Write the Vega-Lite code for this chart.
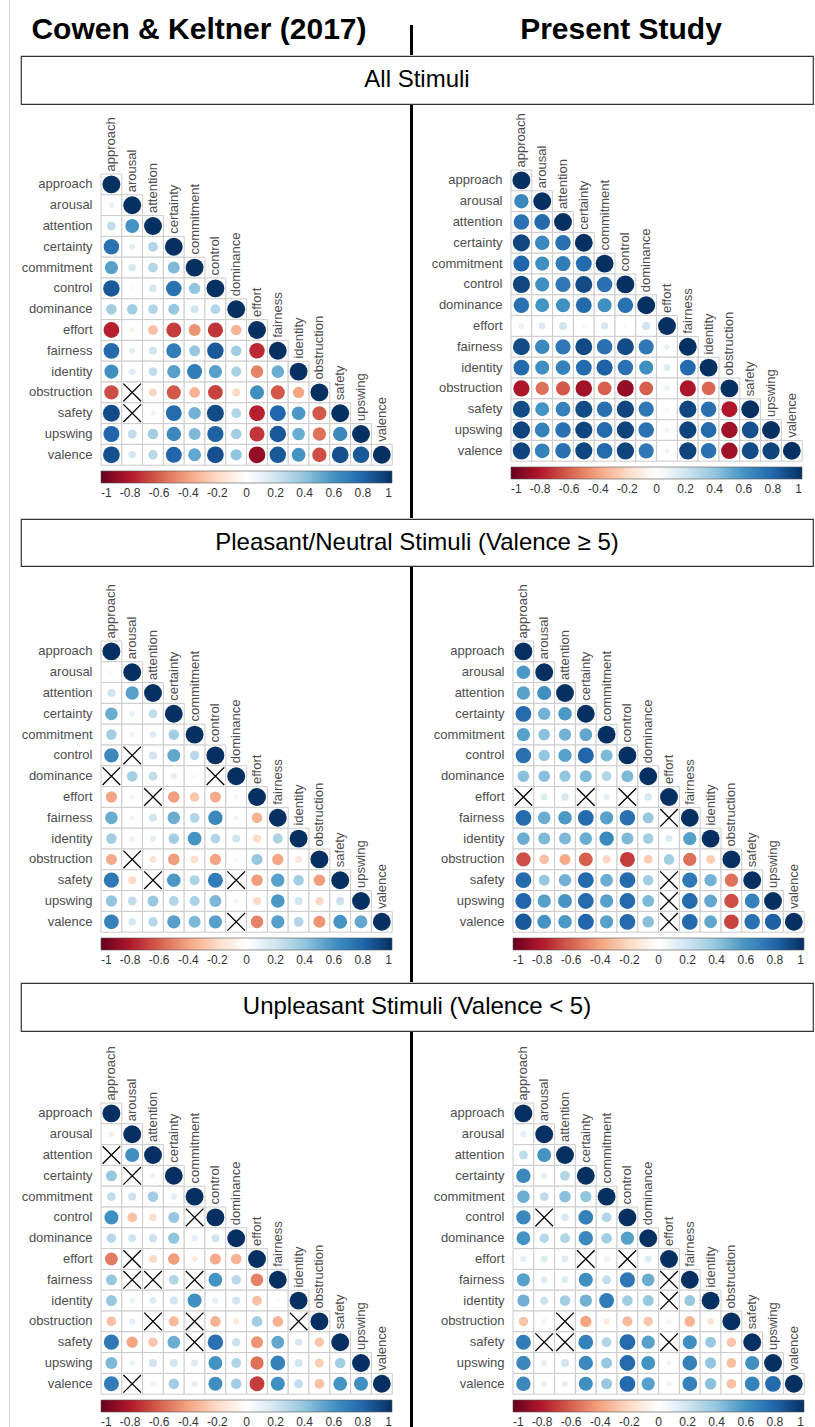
{
  "$schema": "https://vega.github.io/schema/vega-lite/v6.json",
  "padding": {"left": 8, "top": 0, "right": 0, "bottom": 0},
  "config": {
    "font": "Liberation Sans",
    "view": {"stroke": null},
    "axis": {"grid": false}
  },
  "datasets": {
    "corr": [
      {"panel": "ck_all", "row": "approach", "col": ["approach"], "r": [1]},
      {"panel": "ck_all", "row": "arousal", "col": ["approach","arousal"], "r": [0.1, 1]},
      {"panel": "ck_all", "row": "attention", "col": ["approach","arousal","attention"], "r": [0.25, 0.6, 1]},
      {"panel": "ck_all", "row": "certainty", "col": ["approach","arousal","attention","certainty"], "r": [0.75, 0.12, 0.3, 1]},
      {"panel": "ck_all", "row": "commitment", "col": ["approach","arousal","attention","certainty","commitment"], "r": [0.55, 0.18, 0.3, 0.45, 1]},
      {"panel": "ck_all", "row": "control", "col": ["approach","arousal","attention","certainty","commitment","control"], "r": [0.85, 0.05, 0.18, 0.75, 0.4, 1]},
      {"panel": "ck_all", "row": "dominance", "col": ["approach","arousal","attention","certainty","commitment","control","dominance"], "r": [0.35, 0.35, 0.3, 0.38, 0.2, 0.3, 1]},
      {"panel": "ck_all", "row": "effort", "col": ["approach","arousal","attention","certainty","commitment","control","dominance","effort"], "r": [-0.78, -0.08, -0.3, -0.7, -0.45, -0.72, -0.35, 1]},
      {"panel": "ck_all", "row": "fairness", "col": ["approach","arousal","attention","certainty","commitment","control","dominance","effort","fairness"], "r": [0.78, 0.12, 0.2, 0.7, 0.38, 0.85, 0.35, -0.75, 1]},
      {"panel": "ck_all", "row": "identity", "col": ["approach","arousal","attention","certainty","commitment","control","dominance","effort","fairness","identity"], "r": [0.62, 0.15, 0.25, 0.55, 0.7, 0.55, 0.32, -0.5, 0.5, 1]},
      {"panel": "ck_all", "row": "obstruction", "col": ["approach","arousal","attention","certainty","commitment","control","dominance","effort","fairness","identity","obstruction"], "r": [-0.65, null, -0.22, -0.62, -0.35, -0.68, -0.2, 0.62, -0.62, -0.4, 1]},
      {"panel": "ck_all", "row": "safety", "col": ["approach","arousal","attention","certainty","commitment","control","dominance","effort","fairness","identity","obstruction","safety"], "r": [0.9, null, 0.08, 0.78, 0.48, 0.9, 0.3, -0.78, 0.8, 0.58, -0.62, 1]},
      {"panel": "ck_all", "row": "upswing", "col": ["approach","arousal","attention","certainty","commitment","control","dominance","effort","fairness","identity","obstruction","safety","upswing"], "r": [0.8, 0.25, 0.35, 0.65, 0.45, 0.82, 0.35, -0.72, 0.85, 0.5, -0.55, 0.65, 1]},
      {"panel": "ck_all", "row": "valence", "col": ["approach","arousal","attention","certainty","commitment","control","dominance","effort","fairness","identity","obstruction","safety","upswing","valence"], "r": [0.88, 0.18, 0.28, 0.8, 0.52, 0.88, 0.4, -0.88, 0.85, 0.6, -0.65, 0.88, 0.85, 1]},

      {"panel": "ps_all", "row": "approach", "col": ["approach"], "r": [1]},
      {"panel": "ps_all", "row": "arousal", "col": ["approach","arousal"], "r": [0.65, 1]},
      {"panel": "ps_all", "row": "attention", "col": ["approach","arousal","attention"], "r": [0.75, 0.78, 1]},
      {"panel": "ps_all", "row": "certainty", "col": ["approach","arousal","attention","certainty"], "r": [0.92, 0.65, 0.75, 1]},
      {"panel": "ps_all", "row": "commitment", "col": ["approach","arousal","attention","certainty","commitment"], "r": [0.8, 0.62, 0.7, 0.78, 1]},
      {"panel": "ps_all", "row": "control", "col": ["approach","arousal","attention","certainty","commitment","control"], "r": [0.92, 0.62, 0.72, 0.9, 0.75, 1]},
      {"panel": "ps_all", "row": "dominance", "col": ["approach","arousal","attention","certainty","commitment","control","dominance"], "r": [0.75, 0.6, 0.62, 0.78, 0.62, 0.75, 1]},
      {"panel": "ps_all", "row": "effort", "col": ["approach","arousal","attention","certainty","commitment","control","dominance","effort"], "r": [0.1, 0.15, 0.2, 0.05, 0.18, 0.05, 0.2, 1]},
      {"panel": "ps_all", "row": "fairness", "col": ["approach","arousal","attention","certainty","commitment","control","dominance","effort","fairness"], "r": [0.9, 0.65, 0.72, 0.9, 0.75, 0.9, 0.72, 0.1, 1]},
      {"panel": "ps_all", "row": "identity", "col": ["approach","arousal","attention","certainty","commitment","control","dominance","effort","fairness","identity"], "r": [0.78, 0.62, 0.68, 0.78, 0.82, 0.75, 0.62, 0.15, 0.78, 1]},
      {"panel": "ps_all", "row": "obstruction", "col": ["approach","arousal","attention","certainty","commitment","control","dominance","effort","fairness","identity","obstruction"], "r": [-0.82, -0.55, -0.62, -0.85, -0.6, -0.88, -0.6, 0.1, -0.82, -0.58, 1]},
      {"panel": "ps_all", "row": "safety", "col": ["approach","arousal","attention","certainty","commitment","control","dominance","effort","fairness","identity","obstruction","safety"], "r": [0.9, 0.6, 0.68, 0.9, 0.75, 0.92, 0.72, 0.05, 0.92, 0.75, -0.8, 1]},
      {"panel": "ps_all", "row": "upswing", "col": ["approach","arousal","attention","certainty","commitment","control","dominance","effort","fairness","identity","obstruction","safety","upswing"], "r": [0.93, 0.68, 0.75, 0.92, 0.78, 0.93, 0.75, 0.08, 0.93, 0.78, -0.85, 0.88, 1]},
      {"panel": "ps_all", "row": "valence", "col": ["approach","arousal","attention","certainty","commitment","control","dominance","effort","fairness","identity","obstruction","safety","upswing","valence"], "r": [0.93, 0.68, 0.75, 0.92, 0.78, 0.93, 0.72, 0.08, 0.93, 0.75, -0.85, 0.9, 0.93, 1]},

      {"panel": "ck_pl", "row": "approach", "col": ["approach"], "r": [1]},
      {"panel": "ck_pl", "row": "arousal", "col": ["approach","arousal"], "r": [0.05, 1]},
      {"panel": "ck_pl", "row": "attention", "col": ["approach","arousal","attention"], "r": [0.2, 0.55, 1]},
      {"panel": "ck_pl", "row": "certainty", "col": ["approach","arousal","attention","certainty"], "r": [0.5, 0.1, 0.25, 1]},
      {"panel": "ck_pl", "row": "commitment", "col": ["approach","arousal","attention","certainty","commitment"], "r": [0.35, 0.08, 0.15, 0.35, 1]},
      {"panel": "ck_pl", "row": "control", "col": ["approach","arousal","attention","certainty","commitment","control"], "r": [0.65, null, 0.2, 0.52, 0.28, 1]},
      {"panel": "ck_pl", "row": "dominance", "col": ["approach","arousal","attention","certainty","commitment","control","dominance"], "r": [null, 0.35, 0.25, 0.12, 0.05, null, 1]},
      {"panel": "ck_pl", "row": "effort", "col": ["approach","arousal","attention","certainty","commitment","control","dominance","effort"], "r": [-0.4, 0.08, null, -0.42, -0.28, -0.38, 0.05, 1]},
      {"panel": "ck_pl", "row": "fairness", "col": ["approach","arousal","attention","certainty","commitment","control","dominance","effort","fairness"], "r": [0.5, 0.08, 0.2, 0.5, 0.3, 0.65, 0.08, -0.35, 1]},
      {"panel": "ck_pl", "row": "identity", "col": ["approach","arousal","attention","certainty","commitment","control","dominance","effort","fairness","identity"], "r": [0.35, 0.1, 0.12, 0.35, 0.6, 0.3, 0.2, -0.2, 0.32, 1]},
      {"panel": "ck_pl", "row": "obstruction", "col": ["approach","arousal","attention","certainty","commitment","control","dominance","effort","fairness","identity","obstruction"], "r": [-0.38, null, -0.15, -0.42, -0.18, -0.4, 0.05, 0.38, -0.4, -0.15, 1]},
      {"panel": "ck_pl", "row": "safety", "col": ["approach","arousal","attention","certainty","commitment","control","dominance","effort","fairness","identity","obstruction","safety"], "r": [0.72, -0.2, null, 0.58, 0.32, 0.7, null, -0.42, 0.55, 0.35, -0.42, 1]},
      {"panel": "ck_pl", "row": "upswing", "col": ["approach","arousal","attention","certainty","commitment","control","dominance","effort","fairness","identity","obstruction","safety","upswing"], "r": [0.4, 0.25, 0.38, 0.3, 0.32, 0.45, 0.08, -0.2, 0.58, 0.2, -0.22, 0.22, 1]},
      {"panel": "ck_pl", "row": "valence", "col": ["approach","arousal","attention","certainty","commitment","control","dominance","effort","fairness","identity","obstruction","safety","upswing","valence"], "r": [0.68, 0.18, 0.28, 0.55, 0.45, 0.55, null, -0.5, 0.55, 0.3, -0.45, 0.6, 0.52, 1]},

      {"panel": "ps_pl", "row": "approach", "col": ["approach"], "r": [1]},
      {"panel": "ps_pl", "row": "arousal", "col": ["approach","arousal"], "r": [0.58, 1]},
      {"panel": "ps_pl", "row": "attention", "col": ["approach","arousal","attention"], "r": [0.55, 0.62, 1]},
      {"panel": "ps_pl", "row": "certainty", "col": ["approach","arousal","attention","certainty"], "r": [0.78, 0.48, 0.58, 1]},
      {"panel": "ps_pl", "row": "commitment", "col": ["approach","arousal","attention","certainty","commitment"], "r": [0.55, 0.42, 0.48, 0.52, 1]},
      {"panel": "ps_pl", "row": "control", "col": ["approach","arousal","attention","certainty","commitment","control"], "r": [0.75, 0.4, 0.55, 0.8, 0.45, 1]},
      {"panel": "ps_pl", "row": "dominance", "col": ["approach","arousal","attention","certainty","commitment","control","dominance"], "r": [0.42, 0.42, 0.4, 0.45, 0.3, 0.45, 1]},
      {"panel": "ps_pl", "row": "effort", "col": ["approach","arousal","attention","certainty","commitment","control","dominance","effort"], "r": [null, 0.15, 0.18, null, 0.12, null, 0.18, 1]},
      {"panel": "ps_pl", "row": "fairness", "col": ["approach","arousal","attention","certainty","commitment","control","dominance","effort","fairness"], "r": [0.78, 0.5, 0.58, 0.78, 0.55, 0.75, 0.38, null, 1]},
      {"panel": "ps_pl", "row": "identity", "col": ["approach","arousal","attention","certainty","commitment","control","dominance","effort","fairness","identity"], "r": [0.5, 0.45, 0.45, 0.5, 0.65, 0.45, 0.35, 0.15, 0.55, 1]},
      {"panel": "ps_pl", "row": "obstruction", "col": ["approach","arousal","attention","certainty","commitment","control","dominance","effort","fairness","identity","obstruction"], "r": [-0.65, -0.3, -0.38, -0.6, -0.22, -0.7, -0.25, 0.35, -0.55, -0.25, 1]},
      {"panel": "ps_pl", "row": "safety", "col": ["approach","arousal","attention","certainty","commitment","control","dominance","effort","fairness","identity","obstruction","safety"], "r": [0.78, 0.38, 0.48, 0.78, 0.5, 0.78, 0.35, null, 0.72, 0.48, -0.55, 1]},
      {"panel": "ps_pl", "row": "upswing", "col": ["approach","arousal","attention","certainty","commitment","control","dominance","effort","fairness","identity","obstruction","safety","upswing"], "r": [0.8, 0.55, 0.6, 0.78, 0.55, 0.78, 0.45, null, 0.78, 0.52, -0.65, 0.68, 1]},
      {"panel": "ps_pl", "row": "valence", "col": ["approach","arousal","attention","certainty","commitment","control","dominance","effort","fairness","identity","obstruction","safety","upswing","valence"], "r": [0.85, 0.6, 0.58, 0.8, 0.55, 0.78, 0.42, null, 0.78, 0.52, -0.68, 0.75, 0.82, 1]},

      {"panel": "ck_un", "row": "approach", "col": ["approach"], "r": [1]},
      {"panel": "ck_un", "row": "arousal", "col": ["approach","arousal"], "r": [-0.1, 1]},
      {"panel": "ck_un", "row": "attention", "col": ["approach","arousal","attention"], "r": [null, 0.62, 1]},
      {"panel": "ck_un", "row": "certainty", "col": ["approach","arousal","attention","certainty"], "r": [0.38, null, 0.1, 1]},
      {"panel": "ck_un", "row": "commitment", "col": ["approach","arousal","attention","certainty","commitment"], "r": [0.25, 0.22, 0.35, 0.12, 1]},
      {"panel": "ck_un", "row": "control", "col": ["approach","arousal","attention","certainty","commitment","control"], "r": [0.62, -0.3, -0.18, 0.38, null, 1]},
      {"panel": "ck_un", "row": "dominance", "col": ["approach","arousal","attention","certainty","commitment","control","dominance"], "r": [0.28, 0.2, 0.22, 0.4, 0.12, 0.2, 1]},
      {"panel": "ck_un", "row": "effort", "col": ["approach","arousal","attention","certainty","commitment","control","dominance","effort"], "r": [-0.52, null, -0.2, -0.42, -0.12, -0.38, -0.35, 1]},
      {"panel": "ck_un", "row": "fairness", "col": ["approach","arousal","attention","certainty","commitment","control","dominance","effort","fairness"], "r": [0.38, null, null, 0.3, null, 0.6, 0.28, -0.5, 1]},
      {"panel": "ck_un", "row": "identity", "col": ["approach","arousal","attention","certainty","commitment","control","dominance","effort","fairness","identity"], "r": [0.38, 0.1, 0.15, 0.2, 0.62, 0.12, 0.2, -0.3, 0.05, 1]},
      {"panel": "ck_un", "row": "obstruction", "col": ["approach","arousal","attention","certainty","commitment","control","dominance","effort","fairness","identity","obstruction"], "r": [-0.3, 0.12, null, -0.32, null, -0.35, -0.12, 0.35, -0.35, null, 1]},
      {"panel": "ck_un", "row": "safety", "col": ["approach","arousal","attention","certainty","commitment","control","dominance","effort","fairness","identity","obstruction","safety"], "r": [0.72, -0.4, -0.28, 0.5, null, 0.75, 0.22, -0.45, 0.52, 0.18, -0.28, 1]},
      {"panel": "ck_un", "row": "upswing", "col": ["approach","arousal","attention","certainty","commitment","control","dominance","effort","fairness","identity","obstruction","safety","upswing"], "r": [0.45, 0.1, 0.2, 0.2, 0.15, 0.6, 0.3, -0.55, 0.68, 0.2, -0.25, 0.35, 1]},
      {"panel": "ck_un", "row": "valence", "col": ["approach","arousal","attention","certainty","commitment","control","dominance","effort","fairness","identity","obstruction","safety","upswing","valence"], "r": [0.7, null, 0.08, 0.35, 0.12, 0.62, 0.35, -0.7, 0.62, 0.25, -0.3, 0.6, 0.62, 1]},

      {"panel": "ps_un", "row": "approach", "col": ["approach"], "r": [1]},
      {"panel": "ps_un", "row": "arousal", "col": ["approach","arousal"], "r": [0.12, 1]},
      {"panel": "ps_un", "row": "attention", "col": ["approach","arousal","attention"], "r": [0.25, 0.6, 1]},
      {"panel": "ps_un", "row": "certainty", "col": ["approach","arousal","attention","certainty"], "r": [0.65, 0.12, 0.3, 1]},
      {"panel": "ps_un", "row": "commitment", "col": ["approach","arousal","attention","certainty","commitment"], "r": [0.5, 0.25, 0.42, 0.4, 1]},
      {"panel": "ps_un", "row": "control", "col": ["approach","arousal","attention","certainty","commitment","control"], "r": [0.65, null, 0.18, 0.68, 0.3, 1]},
      {"panel": "ps_un", "row": "dominance", "col": ["approach","arousal","attention","certainty","commitment","control","dominance"], "r": [0.6, 0.28, 0.3, 0.65, 0.35, 0.55, 1]},
      {"panel": "ps_un", "row": "effort", "col": ["approach","arousal","attention","certainty","commitment","control","dominance","effort"], "r": [0.12, 0.15, 0.15, null, 0.1, null, 0.15, 1]},
      {"panel": "ps_un", "row": "fairness", "col": ["approach","arousal","attention","certainty","commitment","control","dominance","effort","fairness"], "r": [0.55, 0.15, 0.15, 0.62, 0.25, 0.72, 0.5, null, 1]},
      {"panel": "ps_un", "row": "identity", "col": ["approach","arousal","attention","certainty","commitment","control","dominance","effort","fairness","identity"], "r": [0.48, 0.22, 0.35, 0.48, 0.7, 0.35, 0.38, null, 0.38, 1]},
      {"panel": "ps_un", "row": "obstruction", "col": ["approach","arousal","attention","certainty","commitment","control","dominance","effort","fairness","identity","obstruction"], "r": [-0.28, 0.08, null, -0.4, -0.12, -0.32, -0.28, 0.08, -0.35, -0.15, 1]},
      {"panel": "ps_un", "row": "safety", "col": ["approach","arousal","attention","certainty","commitment","control","dominance","effort","fairness","identity","obstruction","safety"], "r": [0.7, null, null, 0.68, 0.3, 0.78, 0.55, null, 0.62, 0.38, -0.28, 1]},
      {"panel": "ps_un", "row": "upswing", "col": ["approach","arousal","attention","certainty","commitment","control","dominance","effort","fairness","identity","obstruction","safety","upswing"], "r": [0.65, 0.12, 0.2, 0.65, 0.38, 0.78, 0.6, 0.08, 0.68, 0.4, -0.3, 0.62, 1]},
      {"panel": "ps_un", "row": "valence", "col": ["approach","arousal","attention","certainty","commitment","control","dominance","effort","fairness","identity","obstruction","safety","upswing","valence"], "r": [0.65, 0.1, 0.12, 0.62, 0.38, 0.78, 0.55, 0.08, 0.68, 0.42, -0.3, 0.68, 0.78, 1]}
    ]
  },
  "spacing": 0,
  "resolve": {
    "scale": {"x": "independent", "y": "independent", "color": "independent", "size": "independent"},
    "legend": {"color": "independent", "size": "independent"}
  },
  "vconcat": [
    {
      "spacing": 0,
      "hconcat": [
        {
          "width": 392, "height": 55,
          "data": {"values": [{"study": "Cowen & Keltner (2017)"}]},
          "layer": [
            {"mark": {"type": "text", "fontSize": 30, "fontWeight": "bold", "color": "black", "dx": -18, "dy": 2.5}, "encoding": {"text": {"field": "study"}}},
            {"mark": {"type": "rect", "color": "black", "xOffset": -3}, "encoding": {"x": {"value": "width"}, "x2": {"value": "width"}, "y": {"value": 25}, "y2": {"value": "height"}}},
            {"mark": {"type": "rect", "color": "#d6d6d6", "xOffset": -12, "x2Offset": -11}, "encoding": {"x": {"value": 0}, "x2": {"value": 0}, "y": {"value": 0}, "y2": {"value": "height"}}}
          ]
        },
        {
          "width": 403, "height": 55,
          "data": {"values": [{"study": "Present Study"}]},
          "mark": {"type": "text", "fontSize": 30, "fontWeight": "bold", "color": "black", "dx": 6.5, "dy": 2.5},
          "encoding": {"text": {"field": "study"}}
        }
      ]
    },
    {
      "width": 792, "height": 48,
      "view": {"stroke": "#333333", "strokeWidth": 1.2, "fill": "white"},
      "data": {"values": [{"subset": "All Stimuli"}]},
      "layer": [
        {"mark": {"type": "text", "fontSize": 24, "color": "black"}, "encoding": {"text": {"field": "subset"}}},
        {"mark": {"type": "rect", "color": "#d6d6d6", "xOffset": -12, "x2Offset": -11}, "encoding": {"x": {"value": 0}, "x2": {"value": 0}, "y": {"value": 0}, "y2": {"value": "height"}}}
      ]
    },
    {
      "spacing": 0,
      "resolve": {
        "scale": {"x": "independent", "y": "independent", "color": "independent", "size": "independent"},
        "legend": {"color": "independent", "size": "independent"}
      },
      "hconcat": [
        {
          "width": 392, "height": 413,
          "data": {"name": "corr"},
          "transform": [{"filter": {"field": "panel", "equal": "ck_all"}}, {"flatten": ["col", "r"]}],
          "encoding": {
            "x": {"field": "col", "type": "nominal", "axis": null, "scale": {"domain": ["approach","arousal","attention","certainty","commitment","control","dominance","effort","fairness","identity","obstruction","safety","upswing","valence"], "paddingInner": 0, "paddingOuter": 0, "range": [80, 371.2]}},
            "y": {"field": "row", "type": "nominal", "scale": {"domain": ["approach","arousal","attention","certainty","commitment","control","dominance","effort","fairness","identity","obstruction","safety","upswing","valence"], "paddingInner": 0, "paddingOuter": 0, "range": [69, 360.2]}, "axis": {"title": null, "domain": false, "ticks": false, "offset": -80, "labelPadding": 9, "labelFontSize": 13, "labelColor": "#4d4d4d"}}
          },
          "layer": [
            {"mark": {"type": "rect", "fill": "white", "stroke": "#cccccc", "strokeWidth": 1}},
            {
              "transform": [{"filter": {"field": "r", "valid": true}}],
              "mark": {"type": "circle", "opacity": 1},
              "encoding": {
                "color": {"field": "r", "type": "quantitative", "scale": {"domain": [-1,-0.8,-0.6,-0.4,-0.2,0,0.2,0.4,0.6,0.8,1], "range": ["#67001F","#B2182B","#D6604D","#F4A582","#FDDBC7","#FFFFFF","#D1E5F0","#92C5DE","#4393C3","#2166AC","#053061"], "interpolate": "rgb"},
                  "legend": {"orient": "none", "legendX": 80, "legendY": 366, "direction": "horizontal", "title": null, "padding": 0, "gradientLength": 291, "gradientThickness": 12, "gradientStrokeColor": "#555555", "gradientStrokeWidth": 0.6, "values": [-1,-0.8,-0.6,-0.4,-0.2,0,0.2,0.4,0.6,0.8,1], "labelExpr": "'' + datum.value", "labelFontSize": 12, "labelColor": "#333333", "labelAlign": "center", "labelOverlap": false, "labelOffset": 5}},
                "size": {"field": "r", "type": "quantitative", "scale": {"domain": [-1, 0, 1], "range": [320, 0, 320], "zero": false}, "legend": null}
              }
            },
            {
              "transform": [{"filter": {"field": "r", "valid": false}}],
              "mark": {"type": "point", "shape": "M-1,-1L1,1M-1,1L1,-1", "filled": false, "color": "black", "strokeWidth": 1.3, "size": 310, "opacity": 1}
            },
            {
              "transform": [{"filter": "datum.row === datum.col"}],
              "mark": {"type": "text", "angle": 270, "align": "left", "baseline": "middle", "dx": 13, "fontSize": 13, "color": "#4d4d4d"},
              "encoding": {"text": {"field": "col"}}
            },
            {
              "data": {"values": [{"divider": "study"}]},
              "mark": {"type": "rect", "color": "black", "xOffset": -3},
              "encoding": {"x": {"value": "width"}, "x2": {"value": "width"}, "y": {"value": 0}, "y2": {"value": "height"}}
            },
            {
              "data": {"values": [{"edge": "page"}]},
              "mark": {"type": "rect", "color": "#d6d6d6", "xOffset": -12, "x2Offset": -11},
              "encoding": {"x": {"value": 0}, "x2": {"value": 0}, "y": {"value": 0}, "y2": {"value": "height"}}
            }
          ]
        },
        {
          "width": 403, "height": 413,
          "data": {"name": "corr"},
          "transform": [{"filter": {"field": "panel", "equal": "ps_all"}}, {"flatten": ["col", "r"]}],
          "encoding": {
            "x": {"field": "col", "type": "nominal", "axis": null, "scale": {"domain": ["approach","arousal","attention","certainty","commitment","control","dominance","effort","fairness","identity","obstruction","safety","upswing","valence"], "paddingInner": 0, "paddingOuter": 0, "range": [98, 389.2]}},
            "y": {"field": "row", "type": "nominal", "scale": {"domain": ["approach","arousal","attention","certainty","commitment","control","dominance","effort","fairness","identity","obstruction","safety","upswing","valence"], "paddingInner": 0, "paddingOuter": 0, "range": [65, 356.2]}, "axis": {"title": null, "domain": false, "ticks": false, "offset": -98, "labelPadding": 9, "labelFontSize": 13, "labelColor": "#4d4d4d"}}
          },
          "layer": [
            {"mark": {"type": "rect", "fill": "white", "stroke": "#cccccc", "strokeWidth": 1}},
            {
              "transform": [{"filter": {"field": "r", "valid": true}}],
              "mark": {"type": "circle", "opacity": 1},
              "encoding": {
                "color": {"field": "r", "type": "quantitative", "scale": {"domain": [-1,-0.8,-0.6,-0.4,-0.2,0,0.2,0.4,0.6,0.8,1], "range": ["#67001F","#B2182B","#D6604D","#F4A582","#FDDBC7","#FFFFFF","#D1E5F0","#92C5DE","#4393C3","#2166AC","#053061"], "interpolate": "rgb"},
                  "legend": {"orient": "none", "legendX": 98, "legendY": 362, "direction": "horizontal", "title": null, "padding": 0, "gradientLength": 291, "gradientThickness": 12, "gradientStrokeColor": "#555555", "gradientStrokeWidth": 0.6, "values": [-1,-0.8,-0.6,-0.4,-0.2,0,0.2,0.4,0.6,0.8,1], "labelExpr": "'' + datum.value", "labelFontSize": 12, "labelColor": "#333333", "labelAlign": "center", "labelOverlap": false, "labelOffset": 5}},
                "size": {"field": "r", "type": "quantitative", "scale": {"domain": [-1, 0, 1], "range": [320, 0, 320], "zero": false}, "legend": null}
              }
            },
            {
              "transform": [{"filter": {"field": "r", "valid": false}}],
              "mark": {"type": "point", "shape": "M-1,-1L1,1M-1,1L1,-1", "filled": false, "color": "black", "strokeWidth": 1.3, "size": 310, "opacity": 1}
            },
            {
              "transform": [{"filter": "datum.row === datum.col"}],
              "mark": {"type": "text", "angle": 270, "align": "left", "baseline": "middle", "dx": 13, "fontSize": 13, "color": "#4d4d4d"},
              "encoding": {"text": {"field": "col"}}
            }
          ]
        }
      ]
    },
    {
      "width": 792, "height": 47,
      "view": {"stroke": "#333333", "strokeWidth": 1.2, "fill": "white"},
      "data": {"values": [{"subset": "Pleasant/Neutral Stimuli (Valence ≥ 5)"}]},
      "layer": [
        {"mark": {"type": "text", "fontSize": 24, "color": "black"}, "encoding": {"text": {"field": "subset"}}},
        {"mark": {"type": "rect", "color": "#d6d6d6", "xOffset": -12, "x2Offset": -11}, "encoding": {"x": {"value": 0}, "x2": {"value": 0}, "y": {"value": 0}, "y2": {"value": "height"}}}
      ]
    },
    {
      "spacing": 0,
      "resolve": {
        "scale": {"x": "independent", "y": "independent", "color": "independent", "size": "independent"},
        "legend": {"color": "independent", "size": "independent"}
      },
      "hconcat": [
        {
          "width": 392, "height": 415,
          "data": {"name": "corr"},
          "transform": [{"filter": {"field": "panel", "equal": "ck_pl"}}, {"flatten": ["col", "r"]}],
          "encoding": {
            "x": {"field": "col", "type": "nominal", "axis": null, "scale": {"domain": ["approach","arousal","attention","certainty","commitment","control","dominance","effort","fairness","identity","obstruction","safety","upswing","valence"], "paddingInner": 0, "paddingOuter": 0, "range": [80, 371.2]}},
            "y": {"field": "row", "type": "nominal", "scale": {"domain": ["approach","arousal","attention","certainty","commitment","control","dominance","effort","fairness","identity","obstruction","safety","upswing","valence"], "paddingInner": 0, "paddingOuter": 0, "range": [74, 365.2]}, "axis": {"title": null, "domain": false, "ticks": false, "offset": -80, "labelPadding": 9, "labelFontSize": 13, "labelColor": "#4d4d4d"}}
          },
          "layer": [
            {"mark": {"type": "rect", "fill": "white", "stroke": "#cccccc", "strokeWidth": 1}},
            {
              "transform": [{"filter": {"field": "r", "valid": true}}],
              "mark": {"type": "circle", "opacity": 1},
              "encoding": {
                "color": {"field": "r", "type": "quantitative", "scale": {"domain": [-1,-0.8,-0.6,-0.4,-0.2,0,0.2,0.4,0.6,0.8,1], "range": ["#67001F","#B2182B","#D6604D","#F4A582","#FDDBC7","#FFFFFF","#D1E5F0","#92C5DE","#4393C3","#2166AC","#053061"], "interpolate": "rgb"},
                  "legend": {"orient": "none", "legendX": 80, "legendY": 371, "direction": "horizontal", "title": null, "padding": 0, "gradientLength": 291, "gradientThickness": 12, "gradientStrokeColor": "#555555", "gradientStrokeWidth": 0.6, "values": [-1,-0.8,-0.6,-0.4,-0.2,0,0.2,0.4,0.6,0.8,1], "labelExpr": "'' + datum.value", "labelFontSize": 12, "labelColor": "#333333", "labelAlign": "center", "labelOverlap": false, "labelOffset": 5}},
                "size": {"field": "r", "type": "quantitative", "scale": {"domain": [-1, 0, 1], "range": [320, 0, 320], "zero": false}, "legend": null}
              }
            },
            {
              "transform": [{"filter": {"field": "r", "valid": false}}],
              "mark": {"type": "point", "shape": "M-1,-1L1,1M-1,1L1,-1", "filled": false, "color": "black", "strokeWidth": 1.3, "size": 310, "opacity": 1}
            },
            {
              "transform": [{"filter": "datum.row === datum.col"}],
              "mark": {"type": "text", "angle": 270, "align": "left", "baseline": "middle", "dx": 13, "fontSize": 13, "color": "#4d4d4d"},
              "encoding": {"text": {"field": "col"}}
            },
            {
              "data": {"values": [{"divider": "study"}]},
              "mark": {"type": "rect", "color": "black", "xOffset": -3},
              "encoding": {"x": {"value": "width"}, "x2": {"value": "width"}, "y": {"value": 0}, "y2": {"value": "height"}}
            },
            {
              "data": {"values": [{"edge": "page"}]},
              "mark": {"type": "rect", "color": "#d6d6d6", "xOffset": -12, "x2Offset": -11},
              "encoding": {"x": {"value": 0}, "x2": {"value": 0}, "y": {"value": 0}, "y2": {"value": "height"}}
            }
          ]
        },
        {
          "width": 403, "height": 415,
          "data": {"name": "corr"},
          "transform": [{"filter": {"field": "panel", "equal": "ps_pl"}}, {"flatten": ["col", "r"]}],
          "encoding": {
            "x": {"field": "col", "type": "nominal", "axis": null, "scale": {"domain": ["approach","arousal","attention","certainty","commitment","control","dominance","effort","fairness","identity","obstruction","safety","upswing","valence"], "paddingInner": 0, "paddingOuter": 0, "range": [100, 391.2]}},
            "y": {"field": "row", "type": "nominal", "scale": {"domain": ["approach","arousal","attention","certainty","commitment","control","dominance","effort","fairness","identity","obstruction","safety","upswing","valence"], "paddingInner": 0, "paddingOuter": 0, "range": [74, 365.2]}, "axis": {"title": null, "domain": false, "ticks": false, "offset": -100, "labelPadding": 9, "labelFontSize": 13, "labelColor": "#4d4d4d"}}
          },
          "layer": [
            {"mark": {"type": "rect", "fill": "white", "stroke": "#cccccc", "strokeWidth": 1}},
            {
              "transform": [{"filter": {"field": "r", "valid": true}}],
              "mark": {"type": "circle", "opacity": 1},
              "encoding": {
                "color": {"field": "r", "type": "quantitative", "scale": {"domain": [-1,-0.8,-0.6,-0.4,-0.2,0,0.2,0.4,0.6,0.8,1], "range": ["#67001F","#B2182B","#D6604D","#F4A582","#FDDBC7","#FFFFFF","#D1E5F0","#92C5DE","#4393C3","#2166AC","#053061"], "interpolate": "rgb"},
                  "legend": {"orient": "none", "legendX": 100, "legendY": 371, "direction": "horizontal", "title": null, "padding": 0, "gradientLength": 291, "gradientThickness": 12, "gradientStrokeColor": "#555555", "gradientStrokeWidth": 0.6, "values": [-1,-0.8,-0.6,-0.4,-0.2,0,0.2,0.4,0.6,0.8,1], "labelExpr": "'' + datum.value", "labelFontSize": 12, "labelColor": "#333333", "labelAlign": "center", "labelOverlap": false, "labelOffset": 5}},
                "size": {"field": "r", "type": "quantitative", "scale": {"domain": [-1, 0, 1], "range": [320, 0, 320], "zero": false}, "legend": null}
              }
            },
            {
              "transform": [{"filter": {"field": "r", "valid": false}}],
              "mark": {"type": "point", "shape": "M-1,-1L1,1M-1,1L1,-1", "filled": false, "color": "black", "strokeWidth": 1.3, "size": 310, "opacity": 1}
            },
            {
              "transform": [{"filter": "datum.row === datum.col"}],
              "mark": {"type": "text", "angle": 270, "align": "left", "baseline": "middle", "dx": 13, "fontSize": 13, "color": "#4d4d4d"},
              "encoding": {"text": {"field": "col"}}
            }
          ]
        }
      ]
    },
    {
      "width": 792, "height": 48,
      "view": {"stroke": "#333333", "strokeWidth": 1.2, "fill": "white"},
      "data": {"values": [{"subset": "Unpleasant Stimuli (Valence < 5)"}]},
      "layer": [
        {"mark": {"type": "text", "fontSize": 24, "color": "black"}, "encoding": {"text": {"field": "subset"}}},
        {"mark": {"type": "rect", "color": "#d6d6d6", "xOffset": -12, "x2Offset": -11}, "encoding": {"x": {"value": 0}, "x2": {"value": 0}, "y": {"value": 0}, "y2": {"value": "height"}}}
      ]
    },
    {
      "spacing": 0,
      "resolve": {
        "scale": {"x": "independent", "y": "independent", "color": "independent", "size": "independent"},
        "legend": {"color": "independent", "size": "independent"}
      },
      "hconcat": [
        {
          "width": 392, "height": 395,
          "data": {"name": "corr"},
          "transform": [{"filter": {"field": "panel", "equal": "ck_un"}}, {"flatten": ["col", "r"]}],
          "encoding": {
            "x": {"field": "col", "type": "nominal", "axis": null, "scale": {"domain": ["approach","arousal","attention","certainty","commitment","control","dominance","effort","fairness","identity","obstruction","safety","upswing","valence"], "paddingInner": 0, "paddingOuter": 0, "range": [80, 371.2]}},
            "y": {"field": "row", "type": "nominal", "scale": {"domain": ["approach","arousal","attention","certainty","commitment","control","dominance","effort","fairness","identity","obstruction","safety","upswing","valence"], "paddingInner": 0, "paddingOuter": 0, "range": [71, 362.2]}, "axis": {"title": null, "domain": false, "ticks": false, "offset": -80, "labelPadding": 9, "labelFontSize": 13, "labelColor": "#4d4d4d"}}
          },
          "layer": [
            {"mark": {"type": "rect", "fill": "white", "stroke": "#cccccc", "strokeWidth": 1}},
            {
              "transform": [{"filter": {"field": "r", "valid": true}}],
              "mark": {"type": "circle", "opacity": 1},
              "encoding": {
                "color": {"field": "r", "type": "quantitative", "scale": {"domain": [-1,-0.8,-0.6,-0.4,-0.2,0,0.2,0.4,0.6,0.8,1], "range": ["#67001F","#B2182B","#D6604D","#F4A582","#FDDBC7","#FFFFFF","#D1E5F0","#92C5DE","#4393C3","#2166AC","#053061"], "interpolate": "rgb"},
                  "legend": {"orient": "none", "legendX": 80, "legendY": 368, "direction": "horizontal", "title": null, "padding": 0, "gradientLength": 291, "gradientThickness": 12, "gradientStrokeColor": "#555555", "gradientStrokeWidth": 0.6, "values": [-1,-0.8,-0.6,-0.4,-0.2,0,0.2,0.4,0.6,0.8,1], "labelExpr": "'' + datum.value", "labelFontSize": 12, "labelColor": "#333333", "labelAlign": "center", "labelOverlap": false, "labelOffset": 5}},
                "size": {"field": "r", "type": "quantitative", "scale": {"domain": [-1, 0, 1], "range": [320, 0, 320], "zero": false}, "legend": null}
              }
            },
            {
              "transform": [{"filter": {"field": "r", "valid": false}}],
              "mark": {"type": "point", "shape": "M-1,-1L1,1M-1,1L1,-1", "filled": false, "color": "black", "strokeWidth": 1.3, "size": 310, "opacity": 1}
            },
            {
              "transform": [{"filter": "datum.row === datum.col"}],
              "mark": {"type": "text", "angle": 270, "align": "left", "baseline": "middle", "dx": 13, "fontSize": 13, "color": "#4d4d4d"},
              "encoding": {"text": {"field": "col"}}
            },
            {
              "data": {"values": [{"divider": "study"}]},
              "mark": {"type": "rect", "color": "black", "xOffset": -3},
              "encoding": {"x": {"value": "width"}, "x2": {"value": "width"}, "y": {"value": 0}, "y2": {"value": "height"}}
            },
            {
              "data": {"values": [{"edge": "page"}]},
              "mark": {"type": "rect", "color": "#d6d6d6", "xOffset": -12, "x2Offset": -11},
              "encoding": {"x": {"value": 0}, "x2": {"value": 0}, "y": {"value": 0}, "y2": {"value": "height"}}
            }
          ]
        },
        {
          "width": 403, "height": 395,
          "data": {"name": "corr"},
          "transform": [{"filter": {"field": "panel", "equal": "ps_un"}}, {"flatten": ["col", "r"]}],
          "encoding": {
            "x": {"field": "col", "type": "nominal", "axis": null, "scale": {"domain": ["approach","arousal","attention","certainty","commitment","control","dominance","effort","fairness","identity","obstruction","safety","upswing","valence"], "paddingInner": 0, "paddingOuter": 0, "range": [100, 391.2]}},
            "y": {"field": "row", "type": "nominal", "scale": {"domain": ["approach","arousal","attention","certainty","commitment","control","dominance","effort","fairness","identity","obstruction","safety","upswing","valence"], "paddingInner": 0, "paddingOuter": 0, "range": [71, 362.2]}, "axis": {"title": null, "domain": false, "ticks": false, "offset": -100, "labelPadding": 9, "labelFontSize": 13, "labelColor": "#4d4d4d"}}
          },
          "layer": [
            {"mark": {"type": "rect", "fill": "white", "stroke": "#cccccc", "strokeWidth": 1}},
            {
              "transform": [{"filter": {"field": "r", "valid": true}}],
              "mark": {"type": "circle", "opacity": 1},
              "encoding": {
                "color": {"field": "r", "type": "quantitative", "scale": {"domain": [-1,-0.8,-0.6,-0.4,-0.2,0,0.2,0.4,0.6,0.8,1], "range": ["#67001F","#B2182B","#D6604D","#F4A582","#FDDBC7","#FFFFFF","#D1E5F0","#92C5DE","#4393C3","#2166AC","#053061"], "interpolate": "rgb"},
                  "legend": {"orient": "none", "legendX": 100, "legendY": 368, "direction": "horizontal", "title": null, "padding": 0, "gradientLength": 291, "gradientThickness": 12, "gradientStrokeColor": "#555555", "gradientStrokeWidth": 0.6, "values": [-1,-0.8,-0.6,-0.4,-0.2,0,0.2,0.4,0.6,0.8,1], "labelExpr": "'' + datum.value", "labelFontSize": 12, "labelColor": "#333333", "labelAlign": "center", "labelOverlap": false, "labelOffset": 5}},
                "size": {"field": "r", "type": "quantitative", "scale": {"domain": [-1, 0, 1], "range": [320, 0, 320], "zero": false}, "legend": null}
              }
            },
            {
              "transform": [{"filter": {"field": "r", "valid": false}}],
              "mark": {"type": "point", "shape": "M-1,-1L1,1M-1,1L1,-1", "filled": false, "color": "black", "strokeWidth": 1.3, "size": 310, "opacity": 1}
            },
            {
              "transform": [{"filter": "datum.row === datum.col"}],
              "mark": {"type": "text", "angle": 270, "align": "left", "baseline": "middle", "dx": 13, "fontSize": 13, "color": "#4d4d4d"},
              "encoding": {"text": {"field": "col"}}
            }
          ]
        }
      ]
    }
  ]
}
